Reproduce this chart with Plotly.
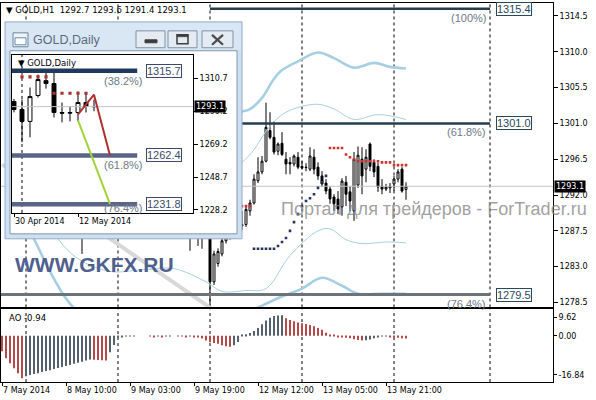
import plotly.graph_objects as go

W, H = 596, 400

# ================= DATA : GOLD,H1 (main chart) =================
h1_idx = [20, 44, 45, 46, 47, 48, 49, 50, 51, 52, 53, 54, 55, 56, 57, 58, 59, 60, 61, 62,
          63, 64, 65, 66, 67, 68, 69, 70, 71, 72, 73, 74, 75, 76, 77, 78, 79, 80, 81, 82,
          83, 84, 85, 86, 87, 88, 89, 90, 91, 92, 93, 94, 95, 96, 97, 98, 99, 100, 101]
h1_open = [1289.5, 1289.0, 1288.6, 1288.0, 1287.4, 1286.8, 1287.5, 1286.9, 1287.2, 1287.8,
           1281.1, 1283.4, 1284.6, 1286.25, 1287.0, 1287.6, 1287.3, 1288.1, 1288.3, 1290.0,
           1291.0, 1293.8, 1294.9, 1296.25, 1300.1, 1299.25, 1297.5, 1298.5, 1296.5, 1296.1,
           1295.9, 1296.75, 1295.6, 1295.5, 1295.25, 1296.75, 1295.5, 1294.4, 1293.5, 1292.75,
           1291.75, 1291.5, 1290.5, 1293.6, 1292.4, 1290.0, 1293.25, 1296.5, 1295.25, 1298.4,
           1296.1, 1295.6, 1293.1, 1292.75, 1292.9, 1293.4, 1294.0, 1295.25, 1292.7]
h1_high = [1291.0, 1290.2, 1289.5, 1289.0, 1288.5, 1288.0, 1288.3, 1287.8, 1288.4, 1288.6,
           1285.0, 1285.3, 1286.8, 1287.5, 1288.2, 1288.5, 1288.9, 1290.0, 1290.6, 1291.4,
           1294.6, 1296.75, 1296.9, 1303.6, 1302.4, 1301.25, 1298.6, 1299.9, 1297.4, 1296.75,
           1297.1, 1297.4, 1296.25, 1296.0, 1298.0, 1297.75, 1296.1, 1295.0, 1294.0, 1293.1,
           1292.1, 1292.5, 1294.1, 1294.4, 1293.1, 1297.4, 1298.1, 1298.0, 1297.75, 1298.6,
           1296.5, 1296.1, 1294.0, 1293.4, 1293.5, 1294.4, 1295.25, 1295.5, 1293.6]
h1_low = [1284.6, 1287.5, 1287.2, 1286.8, 1285.0, 1286.6, 1285.6, 1285.25, 1286.6, 1278.0,
          1280.7, 1283.0, 1284.3, 1285.9, 1286.4, 1286.7, 1286.8, 1287.6, 1288.0, 1289.4,
          1290.8, 1293.5, 1294.6, 1296.1, 1299.0, 1297.1, 1297.0, 1296.9, 1294.6, 1294.6,
          1295.6, 1295.25, 1295.25, 1295.0, 1295.0, 1294.6, 1293.9, 1293.0, 1292.1, 1290.9,
          1290.0, 1289.6, 1289.4, 1290.6, 1290.0, 1288.75, 1292.9, 1292.1, 1293.6, 1295.0,
          1294.25, 1292.4, 1292.1, 1292.5, 1292.25, 1292.5, 1293.6, 1292.3, 1291.4]
h1_close = [1288.8, 1288.6, 1288.0, 1287.4, 1286.8, 1287.5, 1286.9, 1287.2, 1287.8, 1281.1,
            1284.6, 1284.9, 1286.25, 1287.0, 1287.6, 1287.3, 1288.1, 1288.3, 1290.2, 1291.0,
            1294.0, 1294.9, 1296.25, 1300.5, 1299.25, 1297.4, 1298.4, 1297.1, 1295.9, 1295.9,
            1296.9, 1295.5, 1295.4, 1295.45, 1296.9, 1295.25, 1294.4, 1293.4, 1292.5, 1291.5,
            1290.9, 1290.25, 1293.75, 1292.1, 1291.25, 1296.5, 1297.0, 1294.4, 1296.75, 1295.6,
            1294.9, 1293.0, 1292.75, 1293.0, 1293.1, 1294.0, 1294.9, 1292.5, 1293.1]

x_tick_idx = [0, 16, 32, 48, 64, 80, 96]
x_tick_text = ["7 May 2014", "8 May 10:00", "9 May 03:00", "9 May 19:00",
               "12 May 12:00", "13 May 05:00", "13 May 21:00"]
price_ticks = [1314.5, 1310.0, 1305.5, 1301.0, 1296.5, 1292.0, 1287.5, 1283.0, 1278.5]
day_separators = [6, 29, 52, 75, 98, 122]

# Parabolic SAR dots
sar_above_idx = [60, 61, 62, 82, 83, 84, 85, 86, 87, 88, 89, 90, 91, 92, 93, 94,
                 95, 96, 97, 98, 99, 100, 101]
sar_above_val = [1290.6, 1290.6, 1290.6, 1297.9, 1297.9, 1297.9, 1297.9, 1297.1, 1296.75,
                 1296.5, 1296.25, 1296.25, 1296.25, 1296.25, 1296.25, 1296.25,
                 1296.1, 1296.1, 1296.1, 1295.75, 1295.75, 1295.75, 1295.75]
sar_below_idx = [63, 64, 65, 66, 67, 68, 69, 70, 71, 72, 73, 74, 75, 76, 77, 78, 79, 80, 81]
sar_below_val = [1285.25, 1285.25, 1285.25, 1285.25, 1285.25, 1285.25, 1285.6, 1286.1,
                 1286.6, 1287.5, 1288.6, 1289.6, 1290.6, 1291.25, 1291.6, 1292.1, 1292.9,
                 1293.6, 1294.4]

# Envelope / band lines
band_outer_up_idx = [58, 60, 62, 65, 68, 70, 74, 79, 83, 88, 93, 97, 101]
band_outer_up_val = [1302.3, 1302.5, 1302.8, 1304.2, 1306.6, 1307.7, 1308.8, 1309.9,
                     1309.2, 1308.0, 1308.6, 1308.1, 1307.9]
band_inner_up_idx = [58, 60, 63, 66, 70, 74, 79, 83, 88, 94, 101]
band_inner_up_val = [1295.5, 1296.1, 1297.7, 1300.0, 1302.1, 1303.0, 1303.4, 1302.8,
                     1301.5, 1302.1, 1301.5]
band_inner_lo_idx = [12, 14, 19, 27, 35, 43, 51, 55, 61, 66, 72, 79, 82, 86, 90, 96, 101]
band_inner_lo_val = [1288.5, 1286.5, 1284.0, 1282.4, 1282.6, 1282.75, 1281.1, 1279.9,
                     1280.0, 1280.25, 1284.4, 1287.5, 1287.75, 1286.4, 1285.9, 1286.1, 1286.0]
band_outer_lo_idx = [4, 8, 12, 16, 20, 30, 40, 50, 58, 63, 65, 70, 75, 80, 85, 89, 95, 101]
band_outer_lo_val = [1290.5, 1286.5, 1282.4, 1279.0, 1276.8, 1273.5, 1272.5, 1273.0,
                     1275.5, 1277.6, 1278.1, 1279.25, 1280.25, 1281.6, 1280.6, 1279.6,
                     1279.6, 1279.6]

# Fibonacci objects (main)
fibo_trend_idx = [0, 60]
fibo_trend_val = [1295.85, 1275.1]
fib_levels = [1315.4, 1301.0, 1279.5]
fib_labels = ["(100%)", "(61.8%)", "(76.4%)"]
fib_start = [52, 52, -1]
fib_end = 122

# Awesome Oscillator
ao_idx = list(range(102))
ao_val = [-5.6, -8.2, -10.0, -11.8, -13.6, -15.4, -14.7, -14.3, -13.9, -13.6,
          -13.2, -12.8, -12.5, -12.1, -11.7, -11.3, -11.0, -10.6, -10.2, -9.8,
          -9.4, -9.0, -8.6, -8.7, -8.8, -8.9, -9.0, -6.0, -3.3, -0.4,
          -0.3, -0.2, -0.15, -0.1, 0.0, 0.0, 0.0, -0.2, -0.3, -0.2,
          -0.3, -0.2, -0.1, 0.0, -0.1, -0.2, -0.3, -0.2, -0.3, -0.6,
          -1.0, -1.7, -2.3, -2.6, -2.9, -3.4, -3.8, -4.0, -3.4, -2.2,
          0.3, 0.6, 1.0, 1.8, 2.9, 4.2, 5.6, 6.6, 7.2, 7.4,
          7.5, 6.4, 5.8, 5.3, 4.9, 4.6, 4.3, 4.0, 3.5, 2.9,
          2.2, 1.1, 0.4, 0.2, -0.3, -0.5, -0.7, -0.9, -1.2, -1.5,
          -1.7, -1.6, -1.3, -0.9, -0.5, -0.2, -0.1, -0.3, -0.5, -0.7,
          -0.9, -0.94]
ao_scale = [9.62, 0.00, -16.84]

# ================= DATA : GOLD,Daily (inset window) =================
d_idx = list(range(11))
d_open = [1296.3, 1291.3, 1283.8, 1300.1, 1309.4, 1307.6, 1289.4, 1289.0, 1289.4, 1295.7, 1293.2]
d_high = [1298.0, 1297.6, 1305.1, 1313.2, 1315.0, 1315.1, 1295.7, 1293.2, 1302.6, 1301.9, 1297.6]
d_low = [1289.5, 1270.7, 1273.8, 1298.8, 1304.4, 1286.3, 1283.2, 1283.8, 1283.8, 1289.4, 1290.2]
d_close = [1291.3, 1283.8, 1299.4, 1310.1, 1307.6, 1289.4, 1289.0, 1289.3, 1295.7, 1293.2, 1293.1]
d_tick_idx = [0, 8]
d_tick_text = ["30 Apr 2014", "12 May 2014"]
d_price_ticks = [1310.7, 1290.2, 1269.2, 1248.7, 1228.2]
d_separators = [1]
d_sar_idx = [1, 2, 3, 4, 5, 6, 7, 8, 9]
d_sar_val = [1311.8, 1311.8, 1311.8, 1311.8, 1301.5, 1301.5, 1301.5, 1301.5, 1301.5]
d_red_idx = [8, 10, 12]
d_red_val = [1288.2, 1300.6, 1262.4]
d_green_idx = [8, 12]
d_green_val = [1284.5, 1231.8]
d_fib_levels = [1315.7, 1262.4, 1231.8]
d_fib_labels = ["(38.2%)", "(61.8%)", "(76.4%)"]
d_fib_end = 15.4

# ================= ranges =================
main_x_range = [-0.25, 137.75]
main_y_range = [1277.875, 1316.125]
ao_range = [ao_scale[2], ao_scale[0]]
d_x_range = [-0.25, 22.375]
d_y_range = [1226.3, 1325.7]
bid = h1_close[-1]


def dx(a, b):
    return [a / W, b / W]


def dy(top, bottom):
    return [1 - bottom / H, 1 - top / H]


AX_FONT = dict(family="DejaVu Sans", size=8, color="black")
LBL_FONT = "Liberation Sans"
BAND = "#a7cfe3"

fig = go.Figure()

# ---------- main price panel ----------
fig.add_trace(go.Scatter(x=fibo_trend_idx, y=fibo_trend_val, mode="lines",
                         line=dict(color="#d8d8d8", width=4), hoverinfo="skip"))
for ix, vals, wd in [(band_outer_up_idx, band_outer_up_val, 2.6),
                     (band_inner_up_idx, band_inner_up_val, 1),
                     (band_inner_lo_idx, band_inner_lo_val, 1),
                     (band_outer_lo_idx, band_outer_lo_val, 2.6)]:
    fig.add_trace(go.Scatter(x=ix, y=vals, mode="lines",
                             line=dict(color=BAND, width=wd, shape="spline", smoothing=1.0),
                             hoverinfo="skip"))
fib_colors = ["#263e4a", "#263e4a", "#6d7479"]
fib_widths = [2.5, 2.5, 3]
for lv, st, c, wd in zip(fib_levels, fib_start, fib_colors, fib_widths):
    xs = [main_x_range[0] if st < 0 else st, fib_end]
    fig.add_trace(go.Scatter(x=xs, y=[lv, lv], mode="lines",
                             line=dict(color=c, width=wd), hoverinfo="skip"))
fig.add_trace(go.Scatter(x=main_x_range, y=[bid, bid], mode="lines",
                         line=dict(color="#c4c4c4", width=1), hoverinfo="skip"))
fig.add_trace(go.Candlestick(
    x=h1_idx, open=h1_open, high=h1_high, low=h1_low, close=h1_close,
    increasing=dict(line=dict(color="black", width=1), fillcolor="white"),
    decreasing=dict(line=dict(color="black", width=1), fillcolor="black"),
    whiskerwidth=0, hoverinfo="skip"))
fig.add_trace(go.Scatter(x=sar_above_idx, y=sar_above_val, mode="markers",
                         marker=dict(symbol="square", size=2.6, color="#c83232"),
                         hoverinfo="skip"))
fig.add_trace(go.Scatter(x=sar_below_idx, y=sar_below_val, mode="markers",
                         marker=dict(symbol="square", size=2.6, color="#24345e"),
                         hoverinfo="skip"))

# ---------- AO panel ----------
ao_colors = []
for k, v in enumerate(ao_val):
    ao_colors.append("#b8474a" if (k == 0 or v < ao_val[k - 1]) else "#56606a")
fig.add_trace(go.Bar(x=ao_idx, y=ao_val, marker=dict(color=ao_colors, line=dict(width=0)),
                     width=0.22, xaxis="x2", yaxis="y2", hoverinfo="skip"))

# ---------- inset window chrome holder (pixel space) ----------
fig.add_trace(go.Scatter(x=[0], y=[0], mode="markers", marker=dict(opacity=0),
                         xaxis="x3", yaxis="y3", hoverinfo="skip"))

# ---------- inset GOLD,Daily ----------
fig.add_trace(go.Scatter(x=d_x_range, y=[bid, bid], mode="lines", xaxis="x4", yaxis="y4",
                         line=dict(color="#c4c4c4", width=1), hoverinfo="skip"))
d_fib_colors = ["#1f3a5c", "#5a6489", "#5a6489"]
for lv, c in zip(d_fib_levels, d_fib_colors):
    fig.add_trace(go.Scatter(x=[d_x_range[0], d_fib_end], y=[lv, lv], mode="lines",
                             xaxis="x4", yaxis="y4", line=dict(color=c, width=4.5),
                             hoverinfo="skip"))
fig.add_trace(go.Candlestick(
    x=d_idx, open=d_open, high=d_high, low=d_low, close=d_close, xaxis="x4", yaxis="y4",
    increasing=dict(line=dict(color="black", width=1), fillcolor="white"),
    decreasing=dict(line=dict(color="black", width=1), fillcolor="black"),
    whiskerwidth=0, hoverinfo="skip"))
fig.add_trace(go.Scatter(x=d_sar_idx, y=d_sar_val, mode="markers", xaxis="x4", yaxis="y4",
                         marker=dict(symbol="square", size=3.2, color="#a83232"),
                         hoverinfo="skip"))
fig.add_trace(go.Scatter(x=d_green_idx, y=d_green_val, mode="lines", xaxis="x4", yaxis="y4",
                         line=dict(color="#a2d33c", width=2), hoverinfo="skip"))
fig.add_trace(go.Scatter(x=d_red_idx, y=d_red_val, mode="lines", xaxis="x4", yaxis="y4",
                         line=dict(color="#b03030", width=2), hoverinfo="skip"))

# ================= shapes =================
shapes = []
dash = dict(color="black", width=1, dash="3px,3px")
for s in day_separators:
    shapes.append(dict(type="line", xref="x", yref="y", x0=s, x1=s,
                       y0=main_y_range[0], y1=main_y_range[1], line=dash, layer="below"))
    shapes.append(dict(type="line", xref="x2", yref="y2", x0=s, x1=s,
                       y0=ao_range[0], y1=ao_range[1], line=dash, layer="below"))
for s in d_separators:
    shapes.append(dict(type="line", xref="x4", yref="y4", x0=s, x1=s,
                       y0=d_y_range[0], y1=d_y_range[1], line=dash, layer="below"))


def win_rect(x0, y0, x1, y1, fill, line, lw=1):
    shapes.append(dict(type="rect", xref="x3", yref="y3", x0=x0, y0=y0, x1=x1, y1=y1,
                       fillcolor=fill, line=dict(color=line, width=lw), layer="below"))


# window frame, title bar, client area
win_rect(5, 22, 242, 240, "#cddff1", "#93acc6")
win_rect(6, 23, 241, 50, "#d9e7f5", "rgba(0,0,0,0)", 0)
win_rect(10, 51, 237, 235, "white", "#8398ad")
# icon
win_rect(13, 33, 28, 47, "#eef3f8", "#6f8499")
win_rect(15, 38, 26, 45, "#ffffff", "#5f8fb6")
# buttons
for bx0, bx1 in [(136, 165), (168, 197), (202, 233)]:
    win_rect(bx0, 31, bx1, 48, "#e4ebf3", "#7f92a6")
win_rect(145, 40, 157, 43, "#3e3e3e", "#3e3e3e")
win_rect(177, 35, 188, 44, "rgba(0,0,0,0)", "#3e3e3e", 1.5)
win_rect(177, 35, 188, 37, "#3e3e3e", "#3e3e3e", 0.5)
for (a, b, c, d) in [(212, 35, 223, 45), (212, 45, 223, 35)]:
    shapes.append(dict(type="line", xref="x3", yref="y3", x0=a, y0=b, x1=c, y1=d,
                       line=dict(color="#4a4a4a", width=2.2), layer="below"))

# ================= annotations =================
ann = []


def note(text, x, y, xref="paper", yref="paper", **kw):
    d = dict(text=text, x=x, y=y, xref=xref, yref=yref, showarrow=False)
    d.update(kw)
    ann.append(d)


def px(xp):
    return xp / W


def py(yp):
    return 1 - yp / H


note(f"▼ GOLD,H1  {h1_open[-1]} {h1_high[-1]} {h1_low[-1]} {h1_close[-1]}", px(4), py(10),
     xanchor="left", yanchor="middle", font=dict(family="DejaVu Sans", size=8.5, color="black"))
for lv, lab in zip(fib_levels, fib_labels):
    note(lab, fib_end, lv, "x", "y", xanchor="right", yanchor="top", xshift=-2, yshift=-1,
         font=dict(family=LBL_FONT, size=11, color="#6c7a88"))
    note(f"{lv:.1f}", fib_end, lv, "x", "y", xanchor="left", yanchor="middle", xshift=6,
         bordercolor="#2b4858", borderwidth=1, borderpad=0, bgcolor="white",
         font=dict(family=LBL_FONT, size=11, color="#2b4858"))
note(f"{bid}", px(554), bid, "paper", "y", xanchor="left", yanchor="middle",
     bgcolor="black", borderpad=1, font=dict(family="DejaVu Sans", size=8, color="white"))
note(f"AO {ao_val[-1]:.2f}", px(7), py(320), xanchor="left", yanchor="middle",
     font=dict(family="DejaVu Sans", size=8.5, color="black"))
# inset texts
note("GOLD,Daily", px(31), py(40), xanchor="left", yanchor="middle",
     font=dict(family=LBL_FONT, size=12.5, color="#5b6b7d"))
note("▼ GOLD,Daily", px(16), py(63), xanchor="left", yanchor="middle",
     font=dict(family="DejaVu Sans", size=8.5, color="black"))
for lv, lab, ys in zip(d_fib_levels, d_fib_labels, [-2, -2, 4]):
    note(lab, d_fib_end, lv, "x4", "y4", xanchor="right", yanchor="top", xshift=8, yshift=ys,
         font=dict(family=LBL_FONT, size=11, color="#6c7a88"))
    note(f"{lv:.1f}", d_fib_end, lv, "x4", "y4", xanchor="left", yanchor="middle", xshift=9,
         bordercolor="#3b4a68", borderwidth=1, borderpad=0, bgcolor="white",
         font=dict(family=LBL_FONT, size=11, color="#3b4a68"))
note(f"{bid}", px(194), bid, "paper", "y4", xanchor="left", yanchor="middle",
     bgcolor="black", borderpad=1, font=dict(family="DejaVu Sans", size=8, color="white"))
# watermarks
note("<b>WWW.GKFX.RU</b>", px(13), py(266), xanchor="left", yanchor="middle",
     font=dict(family="Liberation Sans", size=21, color="#4f5f8e"))
note("Портал для трейдеров - ForTrader.ru", px(279), py(210), xanchor="left", yanchor="middle",
     font=dict(family=LBL_FONT, size=18, color="rgba(135,135,135,0.8)"))

# ================= layout =================
axis_common = dict(showgrid=False, zeroline=False, showline=True, mirror=True,
                   linecolor="black", linewidth=1, tickfont=AX_FONT, tickcolor="black")
fig.update_layout(
    width=W, height=H, margin=dict(l=0, r=0, t=0, b=0),
    paper_bgcolor="white", plot_bgcolor="rgba(0,0,0,0)", showlegend=False,
    shapes=shapes, annotations=ann,
    xaxis=dict(domain=dx(1, 553), range=main_x_range, anchor="y", ticks="",
               showticklabels=False, rangeslider=dict(visible=False), **axis_common),
    yaxis=dict(domain=dy(3, 309), range=main_y_range, anchor="x", side="right",
               tickvals=price_ticks, ticktext=[f"{v:.1f}" for v in price_ticks],
               ticks="outside", ticklen=4, **axis_common),
    xaxis2=dict(domain=dx(1, 553), range=main_x_range, anchor="y2",
                tickvals=x_tick_idx, ticktext=x_tick_text, ticks="outside", ticklen=3,
                ticklabelposition="outside right", **axis_common),
    yaxis2=dict(domain=dy(311, 384), range=ao_range, anchor="x2", side="right",
                tickvals=[6.7, 0.0, -14.2], ticktext=[f"{v:.2f}" for v in ao_scale],
                ticks="outside", ticklen=3, **axis_common),
    xaxis3=dict(domain=[0, 1], range=[0, W], anchor="y3", visible=False),
    yaxis3=dict(domain=[0, 1], range=[H, 0], anchor="x3", visible=False),
    xaxis4=dict(domain=dx(12, 193), range=d_x_range, anchor="y4",
                tickvals=d_tick_idx, ticktext=d_tick_text, ticks="outside", ticklen=3,
                ticklabelposition="outside right", rangeslider=dict(visible=False),
                **axis_common),
    yaxis4=dict(domain=dy(55, 214), range=d_y_range, anchor="x4", side="right",
                tickvals=d_price_ticks, ticktext=[f"{v:.1f}" for v in d_price_ticks],
                ticks="outside", ticklen=4, **axis_common),
)

fig.write_html("out.html", config={"displayModeBar": False},
               post_script="document.body.style.margin='0';")
